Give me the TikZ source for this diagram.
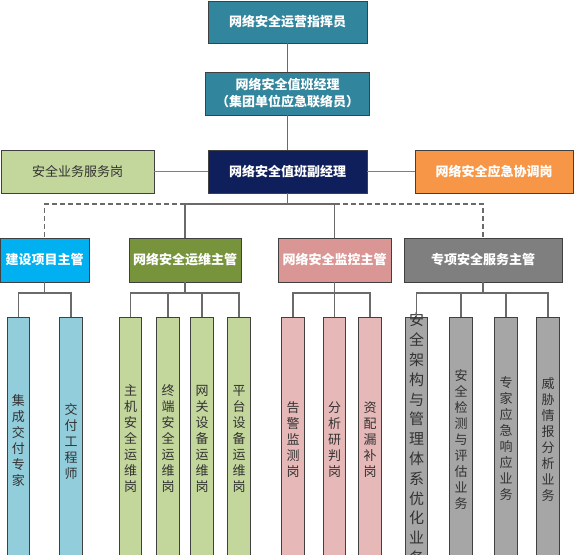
\documentclass[tikz,border=0pt]{standalone}
\usepackage{fontspec}
\setmainfont{Noto Sans CJK SC}
\definecolor{teal}{HTML}{31859C}
\definecolor{navy}{HTML}{0E1F5B}
\definecolor{lgreen}{HTML}{C3D69B}
\definecolor{orng}{HTML}{F79646}
\definecolor{sky}{HTML}{00B0F0}
\definecolor{olive}{HTML}{77933C}
\definecolor{rose}{HTML}{D99694}
\definecolor{dgray}{HTML}{7F7F7F}
\definecolor{lblue}{HTML}{92CDDC}
\definecolor{lpink}{HTML}{E6B9B8}
\definecolor{lgray}{HTML}{A6A6A6}
\definecolor{edge}{HTML}{404040}
\definecolor{wire}{HTML}{6A6A6A}
\tikzset{
  box/.style={draw=edge, line width=0.8pt, inner sep=0pt, align=center,
    font={\fontsize{13}{17}\selectfont}},
  headbox/.style={box, text=white, font={\fontsize{13}{17}\selectfont\bfseries}},
  leaf/.style={draw=edge, line width=0.8pt, inner sep=0pt, minimum width=22.5pt,
    minimum height=250pt, anchor=north},
  leaftext/.style={align=center, inner sep=0pt, text=black!80,
    font={\fontsize{13}{16}\selectfont}},
  wireline/.style={draw=wire, line width=1.1pt},
  dashline/.style={draw=wire, line width=1.1pt, dash pattern=on 5pt off 3pt},
}
\begin{document}
\begin{tikzpicture}[x=1pt, y=-1pt]
\useasboundingbox (0,0) rectangle (577,554);
\clip (0,0) rectangle (577,554);
\fill[white] (0,0) rectangle (577,554);
% top chain
\node[headbox, fill=teal, minimum width=159pt, minimum height=42pt] (cmd) at (287.5,22) {网络安全运营指挥员};
\node[headbox, fill=teal, minimum width=164pt, minimum height=43pt] (mgr) at (287.5,93.5) {网络安全值班经理\\（集团单位应急联络员）};
\node[box, fill=lgreen, text=black!80, minimum width=153pt, minimum height=43pt] (svc) at (77.5,171.5) {安全业务服务岗};
\node[headbox, fill=navy, minimum width=159pt, minimum height=43pt] (dep) at (287.5,171.5) {网络安全值班副经理};
\node[headbox, fill=orng, minimum width=158pt, minimum height=43pt] (emg) at (494,171.5) {网络安全应急协调岗};
% supervisors
\node[headbox, fill=sky, minimum width=89pt, minimum height=44pt] (s1) at (44.5,260) {建设项目主管};
\node[headbox, fill=olive, minimum width=112pt, minimum height=44pt] (s2) at (185,260) {网络安全运维主管};
\node[headbox, fill=rose, minimum width=113pt, minimum height=44pt] (s3) at (334.5,260) {网络安全监控主管};
\node[headbox, fill=dgray, minimum width=158pt, minimum height=44pt] (s4) at (483,260) {专项安全服务主管};
% connectors top
\draw[wireline] (cmd.south) -- (mgr.north);
\draw[wireline] (mgr.south) -- (dep.north);
\draw[wireline, draw=dgray] (svc.east) -- (dep.west);
\draw[wireline, draw=dgray] (dep.east) -- (emg.west);
\coordinate (hub) at (287.5,204);
\draw[wireline] (dep.south) -- (hub);
\draw[wireline] (s2.north) -- (s2.north |- hub) -- (s3.north |- hub) -- (s3.north);
\draw[dashline] (s2.north |- hub) -- (s1.north |- hub) -- (s1.north);
\draw[dashline] (s3.north |- hub) -- (s4.north |- hub) -- (s4.north);
% leaves
\def\leafy{317}
\node[leaf, fill=lblue] (a1) at (18.5,\leafy) {};
\node[leaf, fill=lblue] (a2) at (71,\leafy) {};
\node[leaf, fill=lgreen] (b1) at (130.5,\leafy) {};
\node[leaf, fill=lgreen] (b2) at (168,\leafy) {};
\node[leaf, fill=lgreen] (b3) at (202,\leafy) {};
\node[leaf, fill=lgreen] (b4) at (239,\leafy) {};
\node[leaf, fill=lpink] (c1) at (293,\leafy) {};
\node[leaf, fill=lpink] (c2) at (334.5,\leafy) {};
\node[leaf, fill=lpink] (c3) at (370,\leafy) {};
\node[leaf, fill=lgray] (d1) at (416.5,\leafy) {};
\node[leaf, fill=lgray] (d2) at (461,\leafy) {};
\node[leaf, fill=lgray] (d3) at (506,\leafy) {};
\node[leaf, fill=lgray] (d4) at (548,\leafy) {};
% leaf texts
\node[leaftext] (ta1) at (18.5,441) {集\\成\\交\\付\\专\\家};
\node[leaftext] (ta2) at (71,441) {交\\付\\工\\程\\师};
\node[leaftext] (tb1) at (130.5,439) {主\\机\\安\\全\\运\\维\\岗};
\node[leaftext] (tb2) at (168,439) {终\\端\\安\\全\\运\\维\\岗};
\node[leaftext] (tb3) at (202,439) {网\\关\\设\\备\\运\\维\\岗};
\node[leaftext] (tb4) at (239,439) {平\\台\\设\\备\\运\\维\\岗};
\node[leaftext] (tc1) at (293,440) {告\\警\\监\\测\\岗};
\node[leaftext] (tc2) at (334.5,440) {分\\析\\研\\判\\岗};
\node[leaftext] (tc3) at (370,440) {资\\配\\漏\\补\\岗};
\node[leaftext, font={\fontsize{15}{19.8}\selectfont}] (td1) at (416.5,439) {安\\全\\架\\构\\与\\管\\理\\体\\系\\优\\化\\业\\务};
\node[leaftext] (td2) at (461,440) {安\\全\\检\\测\\与\\评\\估\\业\\务};
\node[leaftext] (td3) at (506,439) {专\\家\\应\\急\\响\\应\\业\\务};
\node[leaftext] (td4) at (548,440) {威\\胁\\情\\报\\分\\析\\业\\务};
% leaf connectors
\def\bary{293}
\coordinate (j1) at (44.5,\bary);
\coordinate (j2) at (185,\bary);
\coordinate (j3) at (334.5,\bary);
\coordinate (j4) at (483,\bary);
\draw[wireline] (s1.south) -- (j1);
\draw[wireline] (a1.north) -- (a1.north |- j1) -- (a2.north |- j1) -- (a2.north);
\draw[wireline] (s2.south) -- (j2);
\draw[wireline] (b1.north) -- (b1.north |- j2) -- (b4.north |- j2) -- (b4.north);
\draw[wireline] (b2.north) -- (b2.north |- j2);
\draw[wireline] (b3.north) -- (b3.north |- j2);
\draw[wireline] (s3.south) -- (c2.north);
\draw[wireline] (c1.north) -- (c1.north |- j3) -- (c3.north |- j3) -- (c3.north);
\draw[wireline] (s4.south) -- (j4);
\draw[wireline] (d1.north) -- (d1.north |- j4) -- (d4.north |- j4) -- (d4.north);
\draw[wireline] (d2.north) -- (d2.north |- j4);
\draw[wireline] (d3.north) -- (d3.north |- j4);
\end{tikzpicture}
\end{document}
